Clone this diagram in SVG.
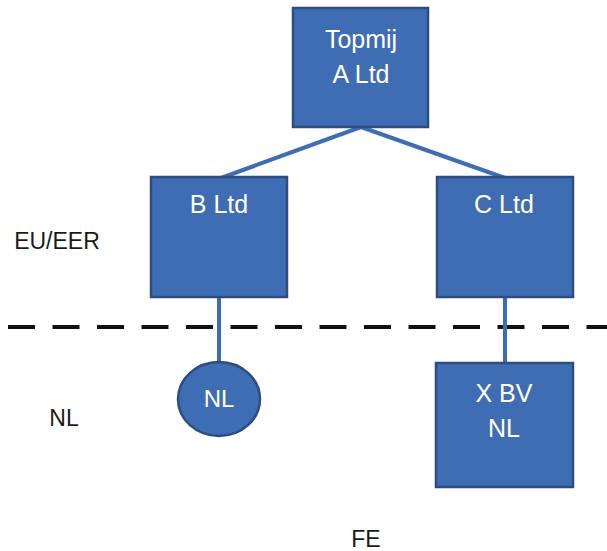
<svg xmlns="http://www.w3.org/2000/svg" width="607" height="551" viewBox="0 0 607 551">
<style>
.node{fill:#3f6db4;stroke:#2c4d80;stroke-width:2.5}
.lbl{font-family:"Liberation Sans",Arial,sans-serif;fill:#fff;text-anchor:middle}
.side{font-family:"Liberation Sans",Arial,sans-serif;fill:#1a1a1a;font-size:23px;text-anchor:middle}
.conn{stroke:#3f6db4;stroke-width:4;fill:none}
</style>
<rect width="607" height="551" fill="#fff"/>
<line x1="8" y1="327" x2="607" y2="327" stroke="#111" stroke-width="4" stroke-dasharray="27 17.5"/>
<g id="connectors">
<line class="conn" x1="361" y1="127" x2="221" y2="178"/>
<line class="conn" x1="361" y1="127" x2="505" y2="178"/>
<line class="conn" x1="219" y1="297" x2="219" y2="363"/>
<line class="conn" x1="505" y1="297" x2="505" y2="364"/>
</g>
<g id="topmij">
<rect class="node" x="293" y="8" width="135" height="119"/>
<text class="lbl" x="361" y="48" font-size="25">Topmij</text>
<text class="lbl" x="361" y="83" font-size="25">A Ltd</text>
</g>
<g id="bltd">
<rect class="node" x="151" y="177" width="136" height="120"/>
<text class="lbl" x="219" y="213" font-size="25">B Ltd</text>
</g>
<g id="cltd">
<rect class="node" x="437" y="177" width="136" height="120"/>
<text class="lbl" x="504" y="213" font-size="25">C Ltd</text>
</g>
<g id="nl-circle">
<ellipse class="node" cx="219" cy="399" rx="41" ry="37"/>
<text class="lbl" x="219" y="407" font-size="24">NL</text>
</g>
<g id="xbv">
<rect class="node" x="436" y="363" width="137" height="124"/>
<text class="lbl" x="504" y="402" font-size="25">X BV</text>
<text class="lbl" x="504" y="437" font-size="25">NL</text>
</g>
<g id="labels">
<text class="side" x="57" y="249">EU/EER</text>
<text class="side" x="64" y="426">NL</text>
<text class="side" x="366" y="547">FE</text>
</g>
</svg>
